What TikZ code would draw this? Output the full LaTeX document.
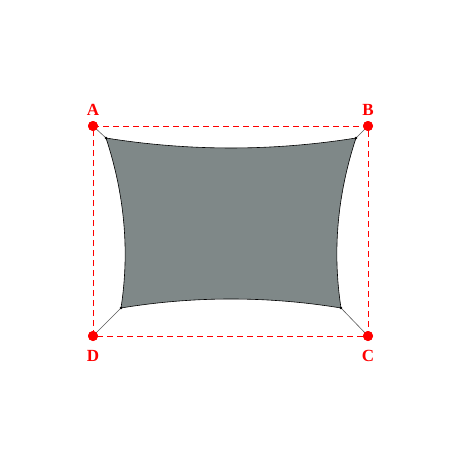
\documentclass[tikz,border=0pt]{standalone}
\usepackage{fontspec}
\setmainfont{Liberation Serif}
\usetikzlibrary{positioning}
\definecolor{shadegrey}{RGB}{127,136,136}
\begin{document}
\begin{tikzpicture}[
            x=1pt, y=-1pt,
            poteau/.style={shape=circle, fill=red, inner sep=0pt, minimum size=10pt},
            lettre/.style={text=red, font=\fontsize{17}{20}\selectfont\bfseries, inner sep=0pt},
            cadre/.style={red, line width=0.8pt, dash pattern=on 6pt off 4pt},
            toile/.style={draw=black, line width=0.6pt, fill=shadegrey},
            tendeur/.style={draw=black!65, line width=0.6pt},
            crochet/.style={fill=black},
        ]
        \useasboundingbox (0, 0) rectangle (463, 463);

        \node[poteau, label={[lettre, label distance=5pt]above:A}] (a) at (93, 126) {};
        \node[poteau, label={[lettre, label distance=5pt]above:B}] (b) at (368, 126) {};
        \node[poteau, label={[lettre, label distance=9pt]below:C}] (c) at (368, 336) {};
        \node[poteau, label={[lettre, label distance=9pt]below:D}] (d) at (93, 336) {};

        \coordinate (pa) at (106, 138);
        \coordinate (pb) at (356, 138);
        \coordinate (pc) at (341, 308);
        \coordinate (pd) at (121, 308);

        \draw[cadre] (a.center) -- (b.center) -- (c.center) -- (d.center) -- cycle;

        \draw[toile] (pa) .. controls (189.3, 151.3) and (272.7, 151.3) .. (pb)
            .. controls (337.3, 194.7) and (332.3, 251.3) .. (pc)
            .. controls (267.7, 296) and (194.3, 296) .. (pd)
            .. controls (129.7, 251.3) and (124.7, 194.7) .. (pa) -- cycle;

        \draw[tendeur] (a.center) -- (pa);
        \draw[tendeur] (b.center) -- (pb);
        \draw[tendeur] (c.center) -- (pc);
        \draw[tendeur] (d.center) -- (pd);

        \fill[crochet] (pa) circle (1.3);
        \fill[crochet] (pb) circle (1.3);
        \fill[crochet] (pc) circle (1.3);
        \fill[crochet] (pd) circle (1.3);

        \node[poteau] at (a) {};
        \node[poteau] at (b) {};
        \node[poteau] at (c) {};
        \node[poteau] at (d) {};

    \end{tikzpicture}
\end{document}
